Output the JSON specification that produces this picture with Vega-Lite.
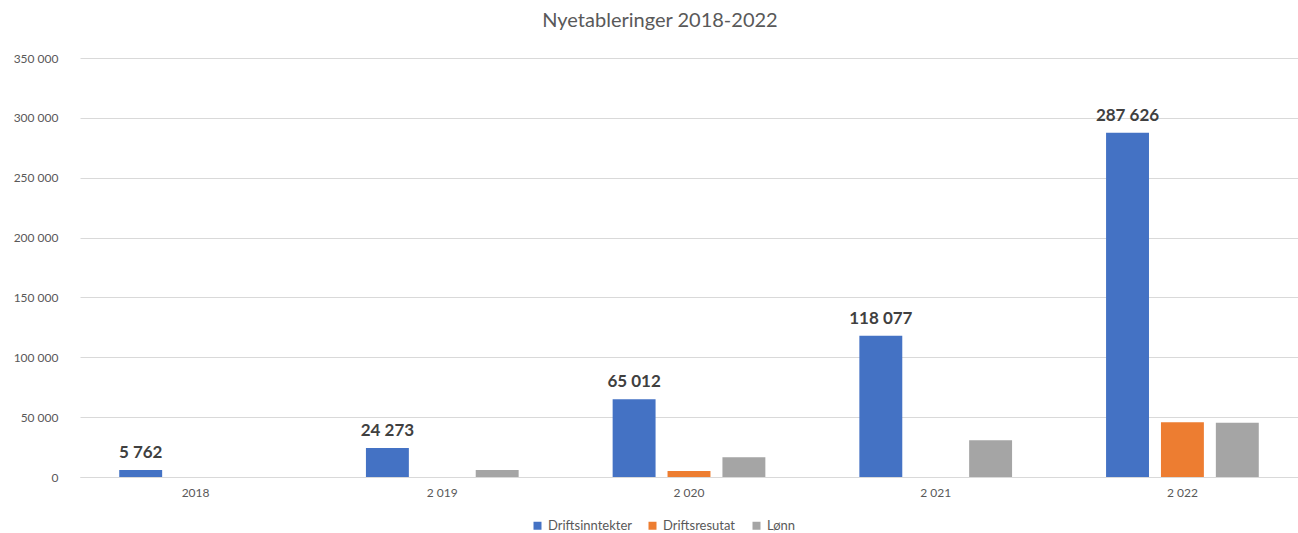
{
  "$schema": "https://vega.github.io/schema/vega-lite/v6.json",
  "width": 1218,
  "height": 419,
  "autosize": "none",
  "padding": {"left": 80, "top": 58, "right": 0, "bottom": 56},
  "background": "white",
  "title": {
    "text": "Nyetableringer 2018-2022",
    "anchor": "middle",
    "frame": "group",
    "dx": -29,
    "offset": 21,
    "font": "Lato",
    "fontSize": 20,
    "fontWeight": "normal",
    "color": "#595959"
  },
  "config": {
    "locale": {"number": {"decimal": ",", "thousands": " ", "grouping": [3], "currency": ["", ""]}},
    "view": {"stroke": null},
    "font": "Lato"
  },
  "data": {
    "values": [
      {"year": "2018", "series": "Driftsinntekter", "value": 5762},
      {"year": "2018", "series": "Driftsresutat", "value": 0},
      {"year": "2018", "series": "Lønn", "value": 0},
      {"year": "2 019", "series": "Driftsinntekter", "value": 24273},
      {"year": "2 019", "series": "Driftsresutat", "value": 0},
      {"year": "2 019", "series": "Lønn", "value": 5900},
      {"year": "2 020", "series": "Driftsinntekter", "value": 65012},
      {"year": "2 020", "series": "Driftsresutat", "value": 5000},
      {"year": "2 020", "series": "Lønn", "value": 16400},
      {"year": "2 021", "series": "Driftsinntekter", "value": 118077},
      {"year": "2 021", "series": "Driftsresutat", "value": 0},
      {"year": "2 021", "series": "Lønn", "value": 30600},
      {"year": "2 022", "series": "Driftsinntekter", "value": 287626},
      {"year": "2 022", "series": "Driftsresutat", "value": 45700},
      {"year": "2 022", "series": "Lønn", "value": 45400}
    ]
  },
  "encoding": {
    "x": {
      "field": "year",
      "type": "nominal",
      "sort": null,
      "scale": {"paddingInner": 0.381, "paddingOuter": 0.159},
      "axis": {
        "title": null,
        "labelAngle": 0,
        "labelFont": "Lato",
        "labelFontSize": 12,
        "labelColor": "#595959",
        "labelPadding": 10,
        "ticks": false,
        "domainColor": "#d9d9d9",
        "domainWidth": 1
      }
    },
    "xOffset": {
      "field": "series",
      "type": "nominal",
      "sort": ["Driftsinntekter", "Driftsresutat", "Lønn"],
      "scale": {"paddingInner": 0.218, "paddingOuter": 0}
    },
    "y": {
      "field": "value",
      "type": "quantitative",
      "scale": {"domain": [0, 350000], "nice": false},
      "axis": {
        "title": null,
        "values": [0, 50000, 100000, 150000, 200000, 250000, 300000, 350000],
        "format": ",d",
        "labelFont": "Lato",
        "labelFontSize": 12,
        "labelColor": "#595959",
        "labelPadding": 22,
        "ticks": false,
        "domain": false,
        "gridColor": "#d9d9d9",
        "gridWidth": 1
      }
    }
  },
  "layer": [
    {
      "mark": {"type": "bar"},
      "encoding": {
        "color": {
          "field": "series",
          "type": "nominal",
          "sort": ["Driftsinntekter", "Driftsresutat", "Lønn"],
          "scale": {"domain": ["Driftsinntekter", "Driftsresutat", "Lønn"], "range": ["#4472C4", "#ED7D31", "#A5A5A5"]},
          "legend": {
            "title": null,
            "orient": "none",
            "direction": "horizontal",
            "legendX": 451,
            "legendY": 461,
            "symbolType": "square",
            "symbolSize": 64,
            "symbolStrokeWidth": 0,
            "labelFont": "Lato",
            "labelFontSize": 13,
            "labelColor": "#595959",
            "columnPadding": 14,
            "labelOffset": 4
          }
        }
      }
    },
    {
      "transform": [{"filter": "datum.series === 'Driftsinntekter'"}],
      "mark": {"type": "text", "baseline": "bottom", "dy": -8, "font": "Lato", "fontSize": 17, "fontWeight": "bold", "color": "#404040"},
      "encoding": {
        "text": {"field": "value", "type": "quantitative", "format": ",d"}
      }
    }
  ]
}
